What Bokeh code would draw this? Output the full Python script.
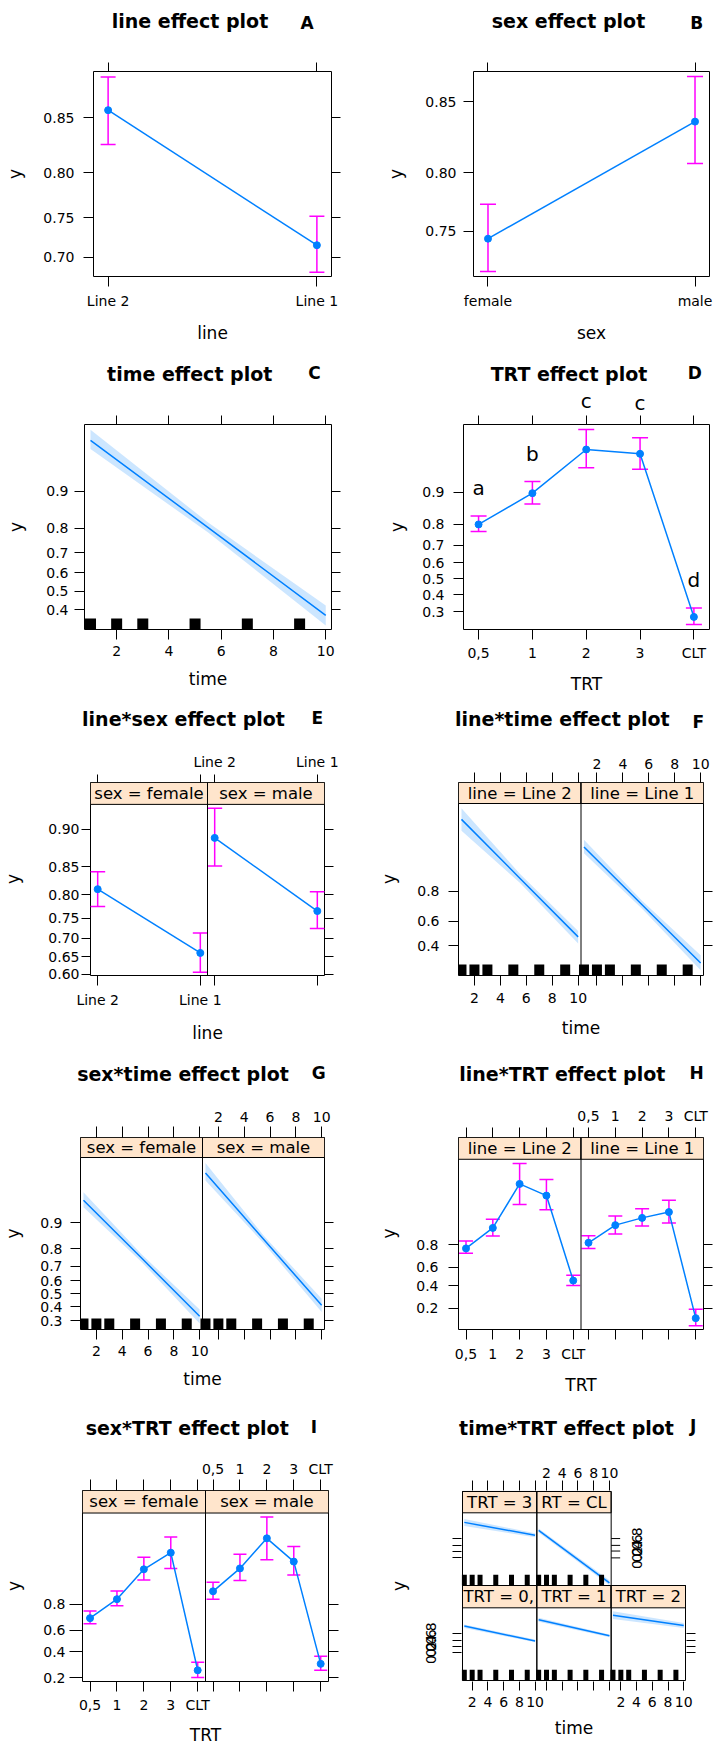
import numpy as np
from bokeh.plotting import figure
from bokeh.models import (FixedTicker, LinearAxis, Range1d, Label, Span, Whisker,
                          TeeHead, ColumnDataSource, AllLabels)
from bokeh.layouts import row, column
from bokeh.embed import file_html
from bokeh.resources import INLINE
from bokeh.core.properties import value

# ------------------------------------------------------------------ data
line_levels = ["Line 2", "Line 1"]
sex_levels = ["female", "male"]
trt_levels = ["0,5", "1", "2", "3", "CLT"]
time_ticks = [2, 4, 6, 8, 10]
rug_time = [1, 2, 3, 5, 7, 9]
band_time = [1, 5.5, 10]

A_fit = [0.856, 0.716]
A_lo = [0.827, 0.680]
A_hi = [0.880, 0.752]

B_fit = [0.743, 0.837]
B_lo = [0.711, 0.807]
B_hi = [0.774, 0.865]

C_fit = [0.965, 0.802, 0.370]
C_lo = [0.958, 0.784, 0.320]
C_hi = [0.972, 0.819, 0.422]

D_fit = [0.799, 0.898, 0.964, 0.960, 0.274]
D_lo = [0.769, 0.870, 0.944, 0.942, 0.237]
D_hi = [0.831, 0.922, 0.978, 0.973, 0.321]
D_letters = ["a", "b", "c", "c", "d"]

E_female_fit = [0.811, 0.661]
E_female_lo = [0.776, 0.606]
E_female_hi = [0.842, 0.714]
E_male_fit = [0.890, 0.766]
E_male_lo = [0.851, 0.725]
E_male_hi = [0.921, 0.806]

F_line2_fit = [0.977, 0.860, 0.471]
F_line2_lo = [0.967, 0.841, 0.417]
F_line2_hi = [0.984, 0.877, 0.520]
F_line1_fit = [0.945, 0.718, 0.274]
F_line1_lo = [0.933, 0.691, 0.229]
F_line1_hi = [0.956, 0.744, 0.328]

G_female_fit = [0.948, 0.751, 0.331]
G_female_lo = [0.936, 0.728, 0.283]
G_female_hi = [0.959, 0.773, 0.379]
G_male_fit = [0.977, 0.844, 0.410]
G_male_lo = [0.971, 0.827, 0.361]
G_male_hi = [0.983, 0.859, 0.461]

H_line2_fit = [0.775, 0.894, 0.983, 0.972, 0.457]
H_line2_lo = [0.735, 0.855, 0.959, 0.949, 0.404]
H_line2_hi = [0.826, 0.925, 0.993, 0.986, 0.514]
H_line1_fit = [0.815, 0.905, 0.929, 0.944, 0.140]
H_line1_lo = [0.775, 0.866, 0.902, 0.913, 0.104]
H_line1_hi = [0.857, 0.934, 0.951, 0.966, 0.193]

I_female_fit = [0.704, 0.830, 0.938, 0.966, 0.248]
I_female_lo = [0.658, 0.792, 0.910, 0.940, 0.200]
I_female_hi = [0.757, 0.869, 0.960, 0.981, 0.309]
I_male_fit = [0.868, 0.940, 0.980, 0.953, 0.296]
I_male_lo = [0.830, 0.908, 0.956, 0.924, 0.248]
I_male_hi = [0.903, 0.964, 0.991, 0.973, 0.359]

J_time = [1, 10]
J_levels = ["3", "CLT", "0,5", "1", "2"]
J_fit = [[0.976, 0.865], [0.928, 0.0068], [0.921, 0.583], [0.967, 0.744], [0.982, 0.927]]
J_lo = [[0.961, 0.826], [0.905, 0.0049], [0.900, 0.533], [0.956, 0.704], [0.970, 0.900]]
J_hi = [[0.985, 0.896], [0.945, 0.0101], [0.937, 0.630], [0.975, 0.780], [0.990, 0.948]]
J_strip = ["TRT = 3", "RT = CL", "TRT = 0,", "TRT = 1", "TRT = 2"]

# ------------------------------------------------------------------ style
FONT = "DejaVu Sans"
BLUE = "#0080ff"
MAG = "#ff00ff"
STRIP_FILL = "#ffe5cc"
TIME_RANGE = (0.77, 10.22)
LINE_RANGE = (0.93, 2.07)
TRT_RANGE = (0.72, 5.29)

CELL_X = [0, 360]
CELL_W = [360, 353]
ROW_Y = [0, 350, 698, 1050, 1400]
ROW_H = [350, 348, 352, 350, 347]
HT = [36, 64, 36, 36, 40]          # height of the heading strip of every row


def logit(p):
    p = np.asarray(p, dtype=float)
    return np.log(p / (1.0 - p))


class Frame:
    def __init__(s, fx0, fx1, fy0, fy1, xs, xe, ys, ye):
        s.fx0, s.fx1, s.fy0, s.fy1 = fx0, fx1, fy0, fy1
        s.xs, s.xe, s.ys, s.ye = xs, xe, ys, ye
        s.ux = (xe - xs) / (fx1 - fx0)
        s.uy = (ye - ys) / (fy1 - fy0)

    def px(s, x):
        return s.fx0 + (x - s.xs) / s.ux

    def py(s, y):
        return s.fy1 - (y - s.ys) / s.uy


def title_fig(col, rw, items):
    cx, cw, cy, h_t = CELL_X[col], CELL_W[col], ROW_Y[rw], HT[rw]
    t = figure(width=cw, height=h_t, x_range=Range1d(cx, cx + cw), y_range=Range1d(cy + h_t, cy),
               output_backend="svg", toolbar_location=None, tools="", title=None,
               min_border_left=0, min_border_right=0, min_border_top=0, min_border_bottom=0,
               x_axis_location=None, y_axis_location=None)
    t.xgrid.visible = False
    t.ygrid.visible = False
    t.outline_line_color = None
    t.background_fill_color = "white"
    t.border_fill_color = "white"
    for x, y, text, size, bold in items:
        t.text(x=[x], y=[y], text=[text], text_align="center", text_baseline="middle",
               text_font=value(FONT), text_font_size=value(f"{size}px"),
               text_font_style="bold" if bold else "normal", text_color="black")
    return t


def new_fig(col, rw, fx0, fx1, fy0, fy1, xs, xe, ys, ye):
    cx, cw = CELL_X[col], CELL_W[col]
    cy, ch = ROW_Y[rw] + HT[rw], ROW_H[rw] - HT[rw]
    p = figure(width=cw, height=ch, x_range=Range1d(xs, xe), y_range=Range1d(ys, ye),
               output_backend="svg", toolbar_location=None, tools="", title=None,
               min_border_left=int(fx0 - cx), min_border_right=int(cx + cw - fx1),
               min_border_top=int(fy0 - cy), min_border_bottom=int(cy + ch - fy1))
    p.xgrid.visible = False
    p.ygrid.visible = False
    p.outline_line_color = "black"
    p.outline_line_width = 1
    p.background_fill_color = "white"
    p.border_fill_color = "white"
    F = Frame(fx0, fx1, fy0, fy1, xs, xe, ys, ye)
    F.bax = p.below[0]
    F.lax = p.left[0]
    return p, F


def style_axis(ax, ticks, labels, tick_out, standoff, orient=None, size="14px"):
    ticks = [float(t) for t in ticks]
    ax.ticker = FixedTicker(ticks=ticks, minor_ticks=[])
    ax.major_label_overrides = {t: str(l) for t, l in zip(ticks, labels)}
    ax.major_label_policy = AllLabels()
    ax.axis_line_color = None
    ax.major_tick_in = 0
    ax.major_tick_out = tick_out
    ax.major_tick_line_color = "black"
    ax.major_tick_line_width = 1
    ax.minor_tick_line_color = None
    ax.minor_tick_out = 0
    ax.major_label_standoff = standoff
    ax.major_label_text_font = FONT
    ax.major_label_text_font_size = size
    ax.major_label_text_color = "black"
    if orient is not None:
        ax.major_label_orientation = orient


def set_axis_label(ax, text, standoff):
    ax.axis_label = text
    ax.axis_label_standoff = int(round(standoff))
    ax.axis_label_text_font = FONT
    ax.axis_label_text_font_size = "17px"
    ax.axis_label_text_font_style = "normal"
    ax.axis_label_text_color = "black"


def std_panel(col, rw, frame, xr, ncol, yr, strip_px, yt, yfmt, xt, xlabels,
              left, bottom, top, right, top_cols=()):
    fx0, fx1, fy0, fy1 = frame
    w = xr[1] - xr[0]
    xs, xe = xr[0], xr[0] + ncol * w
    upp = (yr[1] - yr[0]) / (fy1 - fy0 - strip_px)
    ys, ye = yr[0], yr[1] + strip_px * upp
    p, F = new_fig(col, rw, fx0, fx1, fy0, fy1, xs, xe, ys, ye)
    F.w, F.ylo, F.yhi, F.ncol = w, yr[0], yr[1], ncol
    ytv = [float(v) for v in logit(yt)]
    style_axis(F.lax, ytv, [yfmt.format(v) for v in yt], *left)
    if right:
        ax = LinearAxis()
        p.add_layout(ax, "right")
        style_axis(ax, ytv, [""] * len(ytv), right, 0)
        ax.major_label_text_color = None
    xticks, blabs, tlabs = [], [], []
    for k in range(ncol):
        for v, lab in zip(xt, xlabels):
            xticks.append(float(v + k * w))
            blabs.append(lab if k == 0 else "")
            tlabs.append(lab if k in top_cols else "")
    style_axis(F.bax, xticks, blabs, *bottom)
    ax = LinearAxis()
    p.add_layout(ax, "above")
    style_axis(ax, xticks, tlabs, *top)
    if not any(tlabs):
        ax.major_label_text_color = None
    for k in range(1, ncol):
        p.add_layout(Span(location=xs + k * w, dimension="height",
                          line_color="black", line_width=1))
    return p, F


def strips(p, F, labels):
    xs = F.xs
    for k in range(len(labels)):
        p.quad(left=[xs + k * F.w], right=[xs + (k + 1) * F.w], bottom=[F.yhi], top=[F.ye],
               fill_color=STRIP_FILL, line_color="black", line_width=1)
    p.text(x=[xs + (k + 0.5) * F.w for k in range(len(labels))],
           y=[(F.yhi + F.ye) / 2] * len(labels), text=labels,
           text_align="center", text_baseline="middle",
           text_font=value(FONT), text_font_size=value("16.5px"), text_color="black")


def ci(p, x, fit, lo, hi, cap=15):
    src = ColumnDataSource(dict(x=np.asarray(x, dtype=float), y=logit(fit),
                                lo=logit(lo), hi=logit(hi)))
    wh = Whisker(source=src, base="x", lower="lo", upper="hi", line_color=MAG,
                 line_width=1.5, level="underlay",
                 upper_head=TeeHead(size=cap, line_color=MAG, line_width=1.5),
                 lower_head=TeeHead(size=cap, line_color=MAG, line_width=1.5))
    p.add_layout(wh)
    p.line("x", "y", source=src, line_color=BLUE, line_width=1.5)
    p.scatter("x", "y", source=src, size=7, fill_color=BLUE, line_color=BLUE)


def band(p, t, fit, lo, hi, dx=0.0, dy=0.0):
    t = np.asarray(t, dtype=float) + dx
    p.varea(x=t, y1=logit(lo) + dy, y2=logit(hi) + dy, fill_color=BLUE, fill_alpha=0.2)
    p.line(t, logit(fit) + dy, line_color=BLUE, line_width=1.5)


def rug(p, F, t, ybot, dx=0.0, wpx=10, hpx=11):
    h = hpx * F.uy
    p.rect(x=np.asarray(t, dtype=float) + dx, y=ybot + h / 2, width=wpx, height=h,
           width_units="screen", fill_color="black", line_color=None)


def heading(title, t_xy, letter, l_xy):
    return [(t_xy[0], t_xy[1], title, 19, True), (l_xy[0], l_xy[1], letter, 17, True)]


cat_line = np.arange(1, len(line_levels) + 1)
cat_sex = np.arange(1, len(sex_levels) + 1)
cat_trt = np.arange(1, len(trt_levels) + 1)
tlabels = [str(t) for t in time_ticks]

# ------------------------------------------------------------------ A
pA, FA = std_panel(0, 0, (93, 331, 71, 276), LINE_RANGE, 1, (0.726, 2.028), 0,
                   [0.70, 0.75, 0.80, 0.85], "{:.2f}", cat_line, line_levels,
                   left=(10, 9), bottom=(10, 6), top=(9, 0), right=9)
ci(pA, cat_line, A_fit, A_lo, A_hi, 15)
set_axis_label(FA.lax, "y", 15)
set_axis_label(FA.bax, "line", 11)
tA = title_fig(0, 0, heading("line effect plot", (189.5, 20), "A", (306.7, 22)))

# ------------------------------------------------------------------ B
pB, FB = std_panel(1, 0, (473, 709, 71, 276), LINE_RANGE, 1, (0.876, 1.882), 0,
                   [0.75, 0.80, 0.85], "{:.2f}", cat_sex, sex_levels,
                   left=(10, 7), bottom=(10, 6), top=(9, 0), right=None)
ci(pB, cat_sex, B_fit, B_lo, B_hi, 16)
set_axis_label(FB.lax, "y", 16)
set_axis_label(FB.bax, "sex", 11)
tB = title_fig(1, 0, heading("sex effect plot", (568, 20), "B", (696.3, 22)))

# ------------------------------------------------------------------ C
pC, FC = std_panel(0, 1, (84, 331, 424, 629), TIME_RANGE, 1, (-0.842, 3.664), 0,
                   [0.4, 0.5, 0.6, 0.7, 0.8, 0.9], "{:.1f}", time_ticks, tlabels,
                   left=(10, 6), bottom=(10, 6), top=(9, 0), right=9)
band(pC, band_time, C_fit, C_lo, C_hi)
rug(pC, FC, rug_time, FC.ylo, wpx=11)
set_axis_label(FC.lax, "y", 17)
set_axis_label(FC.bax, "time", 10)
tC = title_fig(0, 1, heading("time effect plot", (189.2, 373), "C", (314, 372.5)))

# ------------------------------------------------------------------ D
pD, FD = std_panel(1, 1, (463, 709, 423, 630), TRT_RANGE, 1, (-1.295, 3.924), 0,
                   [0.3, 0.4, 0.5, 0.6, 0.7, 0.8, 0.9], "{:.1f}", cat_trt, trt_levels,
                   left=(10, 9), bottom=(10, 5), top=(9, 0), right=None)
ci(pD, cat_trt, D_fit, D_lo, D_hi, 16)
D_items = heading("TRT effect plot", (568.5, 373), "D", (694.3, 372.5))
strip_bottom_D = ROW_Y[1] + HT[1]
for xv, hv, let in zip(cat_trt, D_hi, D_letters):
    ypx = FD.py(float(logit(hv))) - 28
    if ypx < FD.fy0 - 6:
        # letter sits above the panel, inside the heading strip
        D_items.append((FD.px(float(xv)), min(ypx, strip_bottom_D - 12), let, 20, False))
    else:
        pD.add_layout(Label(x=float(xv), y=float(logit(hv)) + 28 * FD.uy, text=let,
                            text_font=FONT, text_font_size="20px", text_align="center",
                            text_baseline="middle", text_color="black"))
set_axis_label(FD.lax, "y", 12)
set_axis_label(FD.bax, "TRT", 10)
tD = title_fig(1, 1, D_items)

# ------------------------------------------------------------------ E
pE, FE = std_panel(0, 2, (88, 324, 781, 975), LINE_RANGE, 2, (0.389, 2.505), 22,
                   [0.60, 0.65, 0.70, 0.75, 0.80, 0.85, 0.90], "{:.2f}", cat_line, line_levels,
                   left=(9, 2), bottom=(10, 6), top=(8, 5), right=9, top_cols=(1,))
strips(pE, FE, ["sex = " + s for s in sex_levels])
ci(pE, cat_line, E_female_fit, E_female_lo, E_female_hi, 15)
ci(pE, cat_line + FE.w, E_male_fit, E_male_lo, E_male_hi, 15)
set_axis_label(FE.lax, "y", 22)
set_axis_label(FE.bax, "line", 12)
tE = title_fig(0, 2, heading("line*sex effect plot", (183, 718), "E", (316.7, 717.5)))

# ------------------------------------------------------------------ F
pF, FF = std_panel(1, 2, (458, 703, 782, 975), TIME_RANGE, 2, (-1.386, 4.272), 21,
                   [0.2, 0.4, 0.6, 0.8], "{:.1f}", time_ticks, tlabels,
                   left=(10, 9), bottom=(10, 7), top=(10, 4), right=9, top_cols=(1,))
strips(pF, FF, ["line = " + s for s in line_levels])
band(pF, band_time, F_line2_fit, F_line2_lo, F_line2_hi)
band(pF, band_time, F_line1_fit, F_line1_lo, F_line1_hi, dx=FF.w)
rug(pF, FF, rug_time, FF.ylo)
rug(pF, FF, rug_time, FF.ylo, dx=FF.w)
set_axis_label(FF.lax, "y", 15)
set_axis_label(FF.bax, "time", 12)
tF = title_fig(1, 2, heading("line*time effect plot", (561.8, 718), "F", (697.7, 721)))

# ------------------------------------------------------------------ G
pG, FG = std_panel(0, 3, (78, 324, 1137, 1329), TIME_RANGE, 2, (-1.115, 4.229), 20,
                   [0.3, 0.4, 0.5, 0.6, 0.7, 0.8, 0.9], "{:.1f}", time_ticks, tlabels,
                   left=(10, 8), bottom=(10, 6), top=(11, 5), right=9, top_cols=(1,))
strips(pG, FG, ["sex = " + s for s in sex_levels])
band(pG, band_time, G_female_fit, G_female_lo, G_female_hi)
band(pG, band_time, G_male_fit, G_male_lo, G_male_hi, dx=FG.w)
rug(pG, FG, rug_time, FG.ylo)
rug(pG, FG, rug_time, FG.ylo, dx=FG.w)
set_axis_label(FG.lax, "y", 14)
set_axis_label(FG.bax, "time", 10)
tG = title_fig(0, 3, heading("sex*time effect plot", (182.5, 1073), "G", (318.3, 1072.5)))

# ------------------------------------------------------------------ H
pH, FH = std_panel(1, 3, (458, 703, 1135, 1329), TRT_RANGE, 2, (-2.313, 5.136), 22,
                   [0.2, 0.4, 0.6, 0.8], "{:.1f}", cat_trt, trt_levels,
                   left=(10, 10), bottom=(10, 6), top=(10, 4), right=9, top_cols=(1,))
strips(pH, FH, ["line = " + s for s in line_levels])
ci(pH, cat_trt, H_line2_fit, H_line2_lo, H_line2_hi, 14)
ci(pH, cat_trt + FH.w, H_line1_fit, H_line1_lo, H_line1_hi, 14)
set_axis_label(FH.lax, "y", 14)
set_axis_label(FH.bax, "TRT", 10)
tH = title_fig(1, 3, heading("line*TRT effect plot", (561.8, 1073), "H", (696, 1072)))

# ------------------------------------------------------------------ I
pI, FI = std_panel(0, 4, (82, 328, 1490, 1685), TRT_RANGE, 2, (-1.535, 4.85), 23,
                   [0.2, 0.4, 0.6, 0.8], "{:.1f}", cat_trt, trt_levels,
                   left=(13, 4), bottom=(10, 5), top=(11, 3), right=10, top_cols=(1,))
strips(pI, FI, ["sex = " + s for s in sex_levels])
ci(pI, cat_trt, I_female_fit, I_female_lo, I_female_hi, 13)
ci(pI, cat_trt + FI.w, I_male_fit, I_male_lo, I_male_hi, 13)
set_axis_label(FI.lax, "y", 16)
set_axis_label(FI.bax, "TRT", 9)
tI = title_fig(0, 4, heading("sex*TRT effect plot", (186.7, 1427.5), "I", (313.3, 1426.7)))

# ------------------------------------------------------------------ J
jx0, jx1, jy0, jy1 = 462, 685, 1490, 1685
J_YR = (-5.35, 5.08)
J_yt = [0.2, 0.4, 0.6, 0.8]
J_ytl = ["{:.1f}".format(v) for v in J_yt]
jw = TIME_RANGE[1] - TIME_RANGE[0]
j_data_px, j_bot_strip, j_top_strip = 75, 23, 22
upp = (J_YR[1] - J_YR[0]) / j_data_px
uxj = 3 * jw / (jx1 - jx0)
j_off = (J_YR[1] - J_YR[0]) + j_bot_strip * upp
xs_in, xe_in = TIME_RANGE[0], TIME_RANGE[0] + 3 * jw
ys_in, ye_in = J_YR[0], J_YR[1] + j_off + j_top_strip * upp
pJ, FJ = new_fig(1, 4, jx0 - 1, jx1 + 1, jy0 - 1, jy1 + 1,
                 xs_in - uxj, xe_in + uxj, ys_in - upp, ye_in + upp)
pJ.outline_line_color = None
J_pos = [(1, 0), (1, 1), (0, 0), (0, 1), (0, 2)]

for i, (r, c) in enumerate(J_pos):
    spx = j_top_strip if r == 1 else j_bot_strip
    left = xs_in + c * jw
    bottom = J_YR[0] + r * j_off
    dtop = J_YR[1] + r * j_off
    stop = dtop + spx * upp
    pJ.quad(left=[left], right=[left + jw], bottom=[dtop], top=[stop],
            fill_color=STRIP_FILL, line_color="black", line_width=1)
    band(pJ, J_time, J_fit[i], J_lo[i], J_hi[i], dx=c * jw, dy=r * j_off)
    rug(pJ, FJ, rug_time, bottom, dx=c * jw, wpx=5)
    pJ.quad(left=[left], right=[left + jw], bottom=[bottom], top=[stop],
            fill_color=None, line_color="black", line_width=1)
    if J_strip[i].endswith(","):
        pJ.text(x=[left + 1 * uxj], y=[(dtop + stop) / 2], text=[J_strip[i]],
                text_align="left", text_baseline="middle", text_font=value(FONT),
                text_font_size=value("16.5px"), text_color="black")
    else:
        pJ.text(x=[left + jw / 2], y=[(dtop + stop) / 2], text=[J_strip[i]],
                text_align="center", text_baseline="middle", text_font=value(FONT),
                text_font_size=value("16.5px"), text_color="black")

j_ytv = logit(J_yt)
style_axis(FJ.lax, [v + r * j_off for r in (0, 1) for v in j_ytv],
           [lab if r == 0 else "" for r in (0, 1) for lab in J_ytl], 9, 16, orient="vertical")
axr = LinearAxis()
pJ.add_layout(axr, "right")
style_axis(axr, j_ytv, [""] * len(J_yt), 9, 0)
axr.major_label_text_color = None
bt, bl = [], []
for c in range(3):
    for v, lab in zip(time_ticks, tlabels):
        bt.append(v + c * jw)
        bl.append(lab if c in (0, 2) else "")
style_axis(FJ.bax, bt, bl, 9, 6)
tt, tl = [], []
for c in range(2):
    for v, lab in zip(time_ticks, tlabels):
        tt.append(v + c * jw)
        tl.append(lab if c == 1 else "")
axt = LinearAxis()
pJ.add_layout(axt, "above")
style_axis(axt, tt, tl, 10, 3)
# right-hand axis of the upper row sits at the edge of its second column
x_edge = xs_in + 2 * jw
pJ.ray(x=[x_edge] * len(J_yt), y=list(j_ytv + j_off), length=9, length_units="screen",
       angle=0, line_color="black", line_width=1)
pJ.text(x=[x_edge + 26 * uxj] * len(J_yt), y=list(j_ytv + j_off), text=J_ytl,
        angle=np.pi / 2, text_align="center", text_baseline="middle",
        text_font=value(FONT), text_font_size=value("14px"), text_color="black")
set_axis_label(FJ.lax, "y", 15)
set_axis_label(FJ.bax, "time", 8)
tJ = title_fig(1, 4, heading("time*TRT effect plot", (566, 1427.5), "J", (692.7, 1425.8)))

layout = column(row(tA, tB), row(pA, pB),
                row(tC, tD), row(pC, pD),
                row(tE, tF), row(pE, pF),
                row(tG, tH), row(pG, pH),
                row(tI, tJ), row(pI, pJ))
open("out.html", "w").write(file_html(layout, INLINE))
